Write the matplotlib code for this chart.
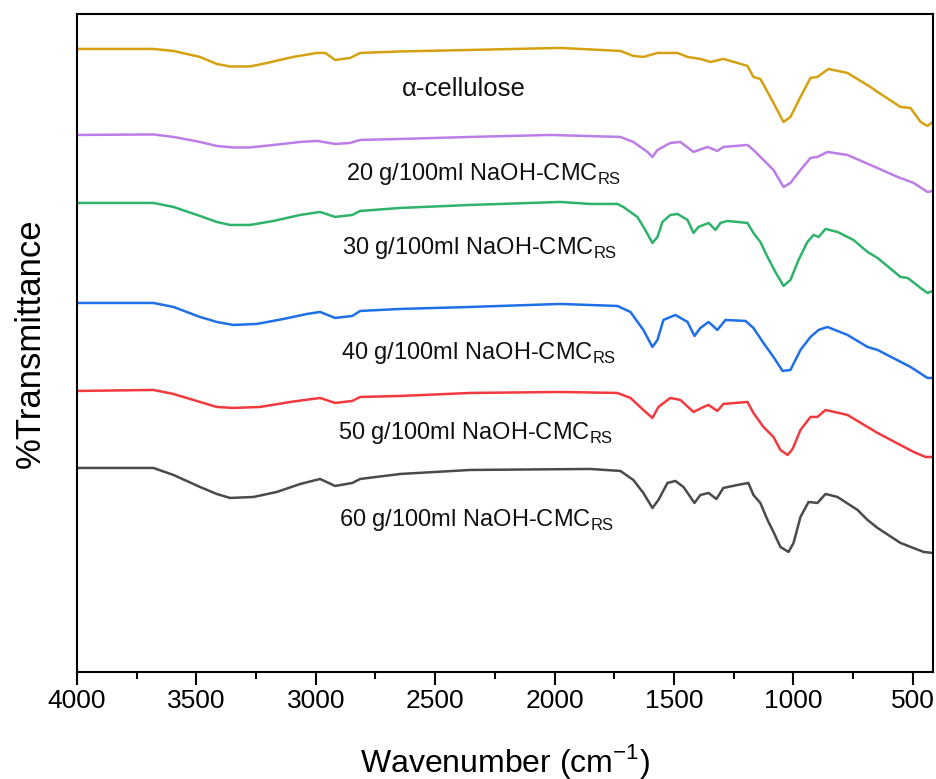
import matplotlib
matplotlib.use("Agg")
import matplotlib.pyplot as plt
from matplotlib.ticker import MultipleLocator

plt.rcParams['font.family'] = ['Liberation Sans', 'DejaVu Sans']
plt.rcParams['mathtext.fontset'] = 'custom'
plt.rcParams['mathtext.rm'] = 'Liberation Sans'

# wavenumber (cm-1) / stacked transmittance (arb. units)
wn_cell = [4000, 3680, 3596, 3485, 3415, 3359, 3275, 3204, 3095, 2994, 2960, 2919, 2856,
           2814, 2646, 2353, 1976, 1724, 1670, 1628, 1569, 1485, 1443, 1389, 1347, 1293,
           1234, 1192, 1167, 1138, 1117, 1083, 1041, 1012, 970, 928, 899, 853, 773, 677,
           647, 551, 509, 467, 438, 415]
t_cell = [623, 623, 621, 615, 608, 605.5, 605.5, 609, 615, 619, 619, 612, 614,
          619, 620.5, 622, 624, 621, 616, 615, 619, 619, 615, 613, 610, 613,
          609, 606, 595, 593, 584, 569, 550, 555, 575, 594, 595, 603, 599, 585,
          580, 565, 564, 550, 546, 550]

wn_20 = [4000, 3680, 3596, 3485, 3415, 3345, 3275, 3177, 3065, 2995, 2919, 2856, 2814,
         2646, 2353, 2018, 1724, 1670, 1611, 1590, 1569, 1515, 1473, 1418, 1360, 1318,
         1293, 1192, 1167, 1125, 1083, 1041, 1012, 970, 928, 899, 857, 773, 677, 563,
         496, 438, 415]
t_20 = [537, 537.5, 535, 530, 526, 524.5, 524.5, 527, 530, 531, 528, 529, 532,
        533, 535, 537, 535, 530, 520, 515, 522, 529, 530, 520, 525, 521,
        525, 527, 522, 512, 502, 485, 489, 502, 514, 515, 520, 517, 507, 495,
        489, 480, 481]

wn_30 = [4000, 3680, 3596, 3485, 3415, 3359, 3275, 3177, 3065, 2982, 2919, 2847, 2814,
         2646, 2353, 1976, 1850, 1737, 1712, 1653, 1620, 1590, 1569, 1548, 1515, 1485,
         1443, 1418, 1397, 1355, 1326, 1305, 1276, 1192, 1167, 1138, 1108, 1075, 1041,
         1012, 978, 941, 915, 894, 865, 815, 748, 689, 647, 551, 521, 467, 438, 415]
t_30 = [469, 469, 465, 456, 450, 447, 447, 451, 457, 460, 455, 457, 461,
        464, 467, 470, 468, 468, 465, 455, 442, 429, 435, 450, 457, 458,
        452, 439, 445, 449, 442, 449, 451, 449, 439, 430, 415, 400, 386,
        392, 412, 430, 437, 435, 443, 440, 432, 420, 414, 395, 394, 384, 379, 381]

wn_40 = [4000, 3680, 3596, 3485, 3415, 3345, 3247, 3135, 3037, 2982, 2919, 2847, 2814,
         2646, 2353, 1976, 1737, 1682, 1628, 1590, 1569, 1544, 1494, 1443, 1414, 1389,
         1355, 1318, 1284, 1200, 1167, 1125, 1083, 1045, 1012, 970, 928, 894, 857, 773,
         689, 647, 509, 438, 415]
t_40 = [369, 369, 365, 355, 350, 347, 348, 353, 358, 360, 354, 356, 361,
        363, 365, 368, 366, 360, 342, 325, 332, 352, 357, 350, 336, 344,
        350, 342, 352, 351, 344, 329, 315, 301, 302, 322, 335, 342, 345, 337,
        325, 322, 305, 294, 294]

wn_50 = [4000, 3680, 3596, 3485, 3415, 3345, 3233, 3107, 2982, 2919, 2847, 2814, 2646,
         2353, 1976, 1737, 1682, 1628, 1590, 1565, 1515, 1473, 1418, 1376, 1355, 1318,
         1293, 1192, 1167, 1125, 1083, 1054, 1024, 1003, 970, 928, 899, 865, 773, 689,
         647, 496, 446, 415]
t_50 = [281, 282, 278, 270, 265, 264, 265, 270, 274, 269, 271, 275, 276,
        279, 280, 279, 274, 262, 254, 265, 274, 272, 260, 265, 267, 261,
        268, 270, 259, 245, 235, 222, 217, 223, 242, 255, 255, 262, 257, 245,
        239, 220, 215, 215]

wn_60 = [4000, 3680, 3596, 3485, 3415, 3359, 3261, 3163, 3065, 2982, 2919, 2847, 2814,
         2646, 2353, 1850, 1724, 1670, 1628, 1590, 1565, 1527, 1494, 1460, 1414, 1389,
         1355, 1322, 1293, 1234, 1188, 1167, 1138, 1108, 1083, 1054, 1020, 999, 970,
         936, 899, 865, 815, 731, 689, 647, 551, 454, 415]
t_60 = [204, 204, 197, 185, 178, 174, 175, 180, 188, 193, 186, 189, 193,
        198, 202, 203, 201, 192, 179, 164, 172, 189, 191, 185, 169, 177,
        179, 173, 184, 187, 189, 177, 169, 152, 140, 125, 120, 129, 155,
        170, 169, 178, 175, 162, 152, 144, 129, 120, 119]

series = [
    (wn_cell, t_cell, '#D5A111', u'\u03b1-cellulose', 2638, 576),
    (wn_20, t_20, '#BC7EE6', r'20 g/100ml NaOH-CMC$_{\mathrm{RS}}$', 2873, 492),
    (wn_30, t_30, '#2FB36A', r'30 g/100ml NaOH-CMC$_{\mathrm{RS}}$', 2891, 418),
    (wn_40, t_40, '#1F6FE6', r'40 g/100ml NaOH-CMC$_{\mathrm{RS}}$', 2895, 313),
    (wn_50, t_50, '#F23A3E', r'50 g/100ml NaOH-CMC$_{\mathrm{RS}}$', 2909, 233),
    (wn_60, t_60, '#4A4A4A', r'60 g/100ml NaOH-CMC$_{\mathrm{RS}}$', 2902, 146),
]

fig = plt.figure(figsize=(9.37, 7.79), dpi=100)
ax = fig.add_axes([0.0822, 0.1374, 0.9135, 0.8447])

for wn, t, col, lab, lx, ly in series:
    ax.plot(wn, t, color=col, linewidth=1.8)
    fs = 18.5 if lab.startswith(u'\u03b1') else 17
    ax.text(lx, ly, lab, fontsize=fs, ha='left', va='baseline', color='#111111')

ax.set_xlim(4000, 415)
ax.set_ylim(0, 658)
ax.set_yticks([])
ax.xaxis.set_major_locator(MultipleLocator(500))
ax.xaxis.set_minor_locator(MultipleLocator(250))
ax.tick_params(axis='x', which='major', direction='out', length=9, width=1.5,
               labelsize=19, pad=3)
ax.tick_params(axis='x', which='minor', direction='out', length=5, width=1.5)
for s in ax.spines.values():
    s.set_linewidth(1.5)

ax.set_xlabel(r'Wavenumber (cm$^{-1}$)', fontsize=23, labelpad=21)
ax.set_ylabel('%Transmittance', fontsize=25, labelpad=22)

fig.savefig('out.png', dpi=100)
plt.close(fig)
